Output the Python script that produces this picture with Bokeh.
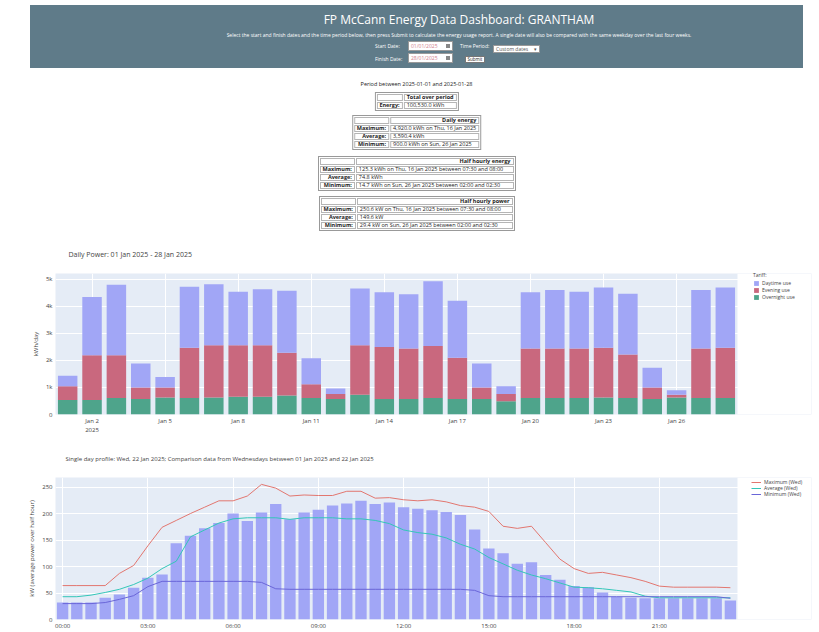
import pandas as pd
from bokeh.plotting import figure
from bokeh.models import (ColumnDataSource, Div, Spacer, Legend, LegendItem, Range1d,
                          FixedTicker, DatetimeTickFormatter, BoxAnnotation)
from bokeh.layouts import column, row
from bokeh.embed import file_html
from bokeh.resources import INLINE

FONT = "Open Sans"

# ---------------- data ----------------
day_dates = pd.date_range("2025-01-01", "2025-01-28", freq="D")
# stacked daily energy, kWh (bottom -> top)
daily_overnight = [540, 540, 610, 570, 630, 610, 630, 660, 660, 700, 610, 570, 730, 570,
                   570, 610, 570, 570, 490, 610, 610, 610, 630, 610, 570, 630, 610, 610]
daily_evening = [500, 1650, 1580, 430, 370, 1860, 1930, 1900, 1900, 1580, 510, 190, 1830, 1920,
                 1870, 1920, 1530, 430, 270, 1830, 1830, 1830, 1840, 1610, 430, 100, 1830, 1860]
daily_daytime = [390, 2150, 2600, 880, 390, 2250, 2250, 1980, 2070, 2290, 960, 200, 2100, 2030,
                 2000, 2390, 2100, 880, 280, 2080, 2160, 2100, 2220, 2240, 730, 170, 2160, 2220]
tariff_labels = ["Daytime use", "Evening use", "Overnight use"]
daily_yticks = [0, 1000, 2000, 3000, 4000, 5000]
daily_ytick_labels = ["0", "1k", "2k", "3k", "4k", "5k"]
daily_xtick_dates = ["2025-01-02", "2025-01-05", "2025-01-08", "2025-01-11", "2025-01-14",
                     "2025-01-17", "2025-01-20", "2025-01-23", "2025-01-26"]

profile_times = pd.date_range("2025-01-22 00:00", periods=48, freq="30min")
profile_kw = [32, 32, 32, 41, 47, 60, 79, 85, 144, 158, 172, 182, 200, 186, 202, 218,
              189, 202, 207, 215, 219, 224, 218, 221, 212, 209, 206, 203, 197, 170, 134, 125,
              105, 108, 84, 75, 63, 61, 51, 43, 41, 40, 40, 40, 40, 40, 40, 36]
comp_max = [64, 64, 64, 64, 87, 102, 139, 174, 187, 200, 212, 224, 224, 233, 255, 248,
            233, 235, 234, 234, 242, 242, 229, 230, 226, 224, 226, 222, 215, 212, 204, 176,
            172, 176, 145, 114, 96, 87, 89, 84, 79, 72, 63, 61, 61, 61, 61, 60]
comp_avg = [43, 43, 46, 51, 57, 66, 78, 96, 110, 156, 169, 182, 190, 192, 192, 192,
            189, 192, 192, 192, 190, 190, 187, 181, 169, 164, 161, 154, 142, 133, 117, 105,
            93, 84, 77, 69, 61, 60, 58, 55, 52, 44, 41, 41, 41, 41, 41, 41]
comp_min = [30, 30, 30, 32, 38, 45, 62, 72, 72, 72, 72, 72, 72, 72, 70, 58,
            57, 57, 57, 57, 57, 57, 57, 57, 57, 57, 57, 57, 57, 55, 45, 43,
            43, 43, 43, 43, 43, 43, 43, 43, 43, 43, 43, 43, 43, 43, 43, 40]
comp_labels = ["Maximum (Wed)", "Average (Wed)", "Minimum (Wed)"]
profile_yticks = [0, 50, 100, 150, 200, 250]
profile_xtick_times = ["00:00", "03:00", "06:00", "09:00", "12:00", "15:00", "18:00", "21:00"]

# ---------------- styles ----------------
HEADER_BG = "#5f7b89"
BLUE = "#a1a6f6"
RED = "#c9687e"
GREEN = "#4ea48b"
MAXC = "#e2766f"
AVGC = "#33c6b8"
MINC = "#6a66d8"
PLOT_BG = "#e5ecf6"
TXT = "#444444"

BORDER_L = 40        # left border (y axis lives in it)
BORDER_R = 4
FRAME_W = 756        # frame: shaded plotting area + legend strip
PLOT_W = 682         # width of the shaded plotting area


def ms(ts):
    return pd.Timestamp(ts).value / 1e6


# ---------------- header ----------------
BOX = "position:absolute;box-sizing:border-box;background:#fff;"
header_html = f"""
<div style="position:relative;width:773px;height:63px;background:{HEADER_BG};font-family:'Open Sans',sans-serif;color:#ffffff;overflow:hidden;">
 <div style="position:absolute;left:199px;top:7px;width:460px;text-align:center;font-size:12px;line-height:16px;">FP McCann Energy Data Dashboard: GRANTHAM</div>
 <div style="position:absolute;left:129px;top:27px;width:600px;text-align:center;font-size:5px;line-height:7px;white-space:nowrap;">Select the start and finish dates and the time period below, then press Submit to calculate the energy usage report. A single date will also be compared with the same weekday over the last four weeks.</div>
 <div style="position:absolute;left:345px;top:38px;font-size:5px;line-height:6px;white-space:nowrap;">Start Date:</div>
 <div style="{BOX}left:378px;top:36px;width:45px;height:10px;border:1px solid #999;font-size:5px;line-height:8px;color:#d07c8c;padding-left:2px;">01/01/2025<span style="position:absolute;right:2px;top:2px;width:4px;height:4px;background:#888;"></span></div>
 <div style="position:absolute;left:430px;top:38px;font-size:5px;line-height:6px;white-space:nowrap;">Time Period:</div>
 <div style="{BOX}left:463px;top:40px;width:47px;height:8px;border:1px solid #999;font-size:5px;line-height:6px;color:#555;padding-left:2px;white-space:nowrap;overflow:hidden;">Custom dates<span style="position:absolute;right:2px;top:0px;">&#9662;</span></div>
 <div style="position:absolute;left:345px;top:51px;font-size:5px;line-height:6px;white-space:nowrap;">Finish Date:</div>
 <div style="{BOX}left:378px;top:48px;width:45px;height:10px;border:1px solid #999;font-size:5px;line-height:8px;color:#d07c8c;padding-left:2px;">28/01/2025<span style="position:absolute;right:2px;top:2px;width:4px;height:4px;background:#888;"></span></div>
 <div style="{BOX}left:435px;top:51px;width:20px;height:7px;border:1px solid #777;font-size:4.5px;line-height:5px;color:#222;text-align:center;">Submit</div>
</div>
"""
header = Div(text=header_html, width=773, height=63, margin=0)

# ---------------- tables ----------------
totals = [a + b + c for a, b, c in zip(daily_overnight, daily_evening, daily_daytime)]
total_energy = sum(totals)
imax = totals.index(max(totals))
imin = totals.index(min(totals))
fmt_day = lambda d: d.strftime("%a, %d %b %Y")
avg_hh = total_energy / (len(totals) * 48)

CELL = "border:1px solid #b5b5b5;padding:0 2px;white-space:nowrap;"


def table_html(top, width, title, rows):
    h = (f'<table style="position:absolute;left:50%;top:{top}px;transform:translateX(-50%);width:{width}px;'
         f'border:1px solid #999;border-collapse:separate;border-spacing:1px;font-size:5.5px;line-height:5px;'
         f'font-family:\'Open Sans\',sans-serif;color:#222;background:#fff;">')
    h += f'<tr><td style="{CELL}"></td><td style="{CELL}text-align:right;font-weight:bold;">{title}</td></tr>'
    for lab, val in rows:
        h += f'<tr><td style="{CELL}text-align:right;font-weight:bold;width:1%;">{lab}</td><td style="{CELL}">{val}</td></tr>'
    h += "</table>"
    return h


tables_html = '<div style="position:relative;width:773px;height:164px;font-family:\'Open Sans\',sans-serif;">'
tables_html += ('<div style="position:absolute;left:0;top:12px;width:773px;text-align:center;font-size:5.5px;'
                'line-height:8px;color:#222;">Period between 2025-01-01 and 2025-01-28</div>')
tables_html += table_html(24, 80, "Total over period", [("Energy:", f"{total_energy:,.1f} kWh")])
tables_html += table_html(47, 128, "Daily energy", [
    ("Maximum:", f"{totals[imax]:,.1f} kWh on {fmt_day(day_dates[imax])}"),
    ("Average:", f"{total_energy / len(totals):,.1f} kWh"),
    ("Minimum:", f"{totals[imin]:,.1f} kWh on {fmt_day(day_dates[imin])}")])
tables_html += table_html(88, 198, "Half hourly energy", [
    ("Maximum:", "125.3 kWh on Thu, 16 Jan 2025 between 07:30 and 08:00"),
    ("Average:", f"{avg_hh:,.1f} kWh"),
    ("Minimum:", "14.7 kWh on Sun, 26 Jan 2025 between 02:00 and 02:30")])
tables_html += table_html(128, 196, "Half hourly power", [
    ("Maximum:", "250.6 kW on Thu, 16 Jan 2025 between 07:30 and 08:00"),
    ("Average:", f"{avg_hh * 2:,.1f} kW"),
    ("Minimum:", "29.4 kW on Sun, 26 Jan 2025 between 02:00 and 02:30")])
tables_html += "</div>"
tables = Div(text=tables_html, width=773, height=164, margin=0)


def style_fig(p):
    p.background_fill_color = PLOT_BG
    p.border_fill_color = "white"
    p.outline_line_color = None
    p.title.text_font = FONT
    p.title.text_font_size = "7px"
    p.title.text_font_style = "normal"
    p.title.text_color = TXT
    p.title.align = "left"
    p.title.standoff = 30
    for ax in (p.xaxis[0], p.yaxis[0]):
        ax.axis_line_color = None
        ax.major_tick_line_color = None
        ax.minor_tick_line_color = None
        ax.major_tick_out = 0
        ax.major_tick_in = 0
        ax.minor_tick_out = 0
        ax.minor_tick_in = 0
        ax.major_label_text_font = FONT
        ax.major_label_text_font_size = "6px"
        ax.major_label_text_color = TXT
        ax.major_label_standoff = 3
        ax.axis_label_text_font = FONT
        ax.axis_label_text_font_size = "6px"
        ax.axis_label_text_font_style = "normal"
        ax.axis_label_text_color = TXT
        ax.axis_label_standoff = 3
    p.xaxis[0].major_label_standoff = 2
    p.xgrid.grid_line_color = "white"
    p.ygrid.grid_line_color = "white"
    p.xgrid.grid_line_width = 1
    p.ygrid.grid_line_width = 1


def style_legend(lg):
    lg.background_fill_alpha = 0
    lg.border_line_color = None
    lg.label_text_font = FONT
    lg.label_text_font_size = "5px"
    lg.label_text_color = TXT
    lg.label_height = 6
    lg.glyph_height = 6
    lg.label_standoff = 3
    lg.spacing = 1
    lg.padding = 2
    lg.margin = 0
    lg.title_text_font = FONT
    lg.title_text_font_size = "5px"
    lg.title_text_font_style = "normal"
    lg.title_text_color = TXT
    lg.title_standoff = 2


def extended_range(start, end):
    # the frame also spans the legend strip to the right of the plotting area
    span = end - start
    return Range1d(start, start + span * FRAME_W / PLOT_W), end


# ---------------- chart 1: daily stacked bars ----------------
src1 = ColumnDataSource(dict(date=day_dates, overnight=daily_overnight,
                             evening=daily_evening, daytime=daily_daytime))
xr1, xend1 = extended_range(ms(day_dates[0]) - 12 * 3600e3, ms(day_dates[-1]) + 12 * 3600e3)
p1 = figure(frame_width=FRAME_W, frame_height=141, x_axis_type="datetime", output_backend="svg",
            toolbar_location=None, x_range=xr1, y_range=Range1d(0, 5210),
            min_border_left=BORDER_L, min_border_right=BORDER_R, min_border_top=39, min_border_bottom=20,
            title="Daily Power: 01 Jan 2025 - 28 Jan 2025")
style_fig(p1)
p1.title.offset = 13
rs = p1.vbar_stack(["overnight", "evening", "daytime"], x="date", width=0.8 * 86400e3,
                   color=[GREEN, RED, BLUE], line_color=None, source=src1)
p1.xaxis[0].ticker = FixedTicker(ticks=[ms(d) for d in daily_xtick_dates], minor_ticks=[])
p1.xaxis[0].formatter = DatetimeTickFormatter(days="%b %-d", context=DatetimeTickFormatter(days="%Y"),
                                              context_which="start")
p1.yaxis[0].ticker = FixedTicker(ticks=daily_yticks, minor_ticks=[])
p1.yaxis[0].major_label_overrides = dict(zip(daily_yticks, daily_ytick_labels))
p1.yaxis[0].axis_label = "kWh/day"
p1.add_layout(BoxAnnotation(left=xend1, fill_color="white", fill_alpha=1.0, line_color=None))
lg1 = Legend(items=[LegendItem(label=tariff_labels[0], renderers=[rs[2]]),
                    LegendItem(label=tariff_labels[1], renderers=[rs[1]]),
                    LegendItem(label=tariff_labels[2], renderers=[rs[0]])],
             title="Tariff:", location=(698, 114))
style_legend(lg1)
lg1.glyph_width = 6
p1.add_layout(lg1, "center")

# ---------------- chart 2: single day profile ----------------
src2 = ColumnDataSource(dict(t=profile_times, kw=profile_kw, mx=comp_max, av=comp_avg, mn=comp_min))
xr2, xend2 = extended_range(ms(profile_times[0]) - 15 * 60e3, ms(profile_times[-1]) + 15 * 60e3)
p2 = figure(frame_width=FRAME_W, frame_height=142, x_axis_type="datetime", output_backend="svg",
            toolbar_location=None, x_range=xr2, y_range=Range1d(0, 268),
            min_border_left=BORDER_L, min_border_right=BORDER_R, min_border_top=38, min_border_bottom=12,
            title="Single day profile: Wed, 22 Jan 2025; Comparison data from Wednesdays between 01 Jan 2025 and 22 Jan 2025")
style_fig(p2)
p2.title.offset = 10
p2.title.text_font_size = "6px"
p2.vbar(x="t", top="kw", width=0.8 * 1800e3, color=BLUE, line_color=None, source=src2)
l_mx = p2.line(x="t", y="mx", color=MAXC, line_width=1, source=src2)
l_av = p2.line(x="t", y="av", color=AVGC, line_width=1, source=src2)
l_mn = p2.line(x="t", y="mn", color=MINC, line_width=1, source=src2)
p2.xaxis[0].ticker = FixedTicker(ticks=[ms("2025-01-22 " + t) for t in profile_xtick_times], minor_ticks=[])
p2.xaxis[0].formatter = DatetimeTickFormatter(hours="%H:%M", days="%H:%M")
p2.yaxis[0].ticker = FixedTicker(ticks=profile_yticks, minor_ticks=[])
p2.yaxis[0].axis_label = "kW (average power over half hour)"
p2.add_layout(BoxAnnotation(left=xend2, fill_color="white", fill_alpha=1.0, line_color=None))
lg2 = Legend(items=[LegendItem(label=comp_labels[0], renderers=[l_mx]),
                    LegendItem(label=comp_labels[1], renderers=[l_av]),
                    LegendItem(label=comp_labels[2], renderers=[l_mn])],
             location=(696, 122))
style_legend(lg2)
lg2.glyph_width = 10
lg2.spacing = 0
p2.add_layout(lg2, "center")

top_block = row(Spacer(width=30, height=10), column(header, tables))
chart_block = row(Spacer(width=55 - BORDER_L, height=10), column(p1, p2))
layout = column(Spacer(width=10, height=5), top_block, chart_block)
open("out.html", "w").write(file_html(layout, INLINE))
